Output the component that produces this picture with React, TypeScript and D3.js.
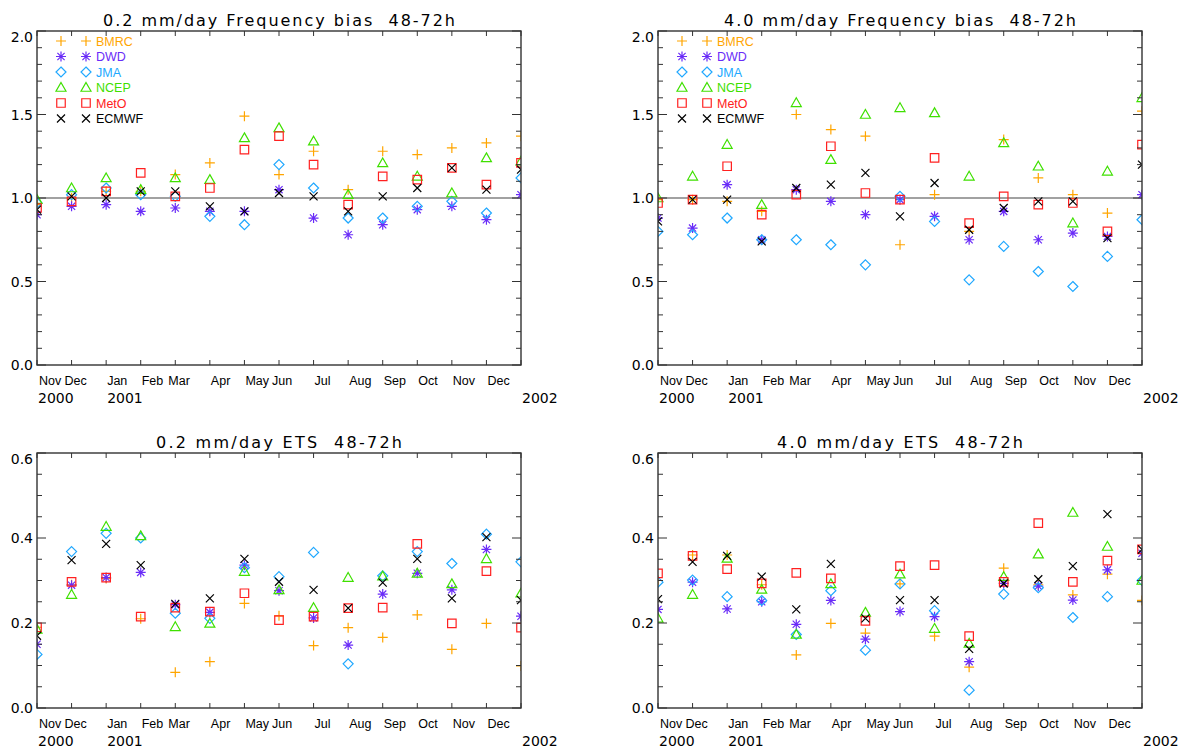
import React, { useEffect, useRef } from 'react';
import * as d3 from 'd3';

const width = 1189;
const height = 749;

const models = ['BMRC', 'DWD', 'JMA', 'NCEP', 'MetO', 'ECMWF'];
const modelColors = ['#ffa500', '#6a2cf8', '#20a8ff', '#3fe000', '#ff2020', '#000000'];
const monthLabels = ['Nov', 'Dec', 'Jan', 'Feb', 'Mar', 'Apr', 'May', 'Jun', 'Jul', 'Aug', 'Sep', 'Oct', 'Nov', 'Dec'];
const yearLabels = ['2000', '2001', '2002'];
const yearIndex = [0, 2, 14];

// one row per model (same order as `models`), 15 monthly values Nov 2000 .. Jan 2002
const freqBias02 = [
  [0.96, 1.0, 1.04, 1.04, 1.14, 1.21, 1.49, 1.14, 1.28, 1.05, 1.28, 1.26, 1.3, 1.33, 1.37],
  [0.9, 0.95, 0.96, 0.92, 0.94, 0.92, 0.92, 1.05, 0.88, 0.78, 0.84, 0.93, 0.95, 0.87, 1.02],
  [0.97, 1.02, 1.06, 1.02, 1.01, 0.89, 0.84, 1.2, 1.06, 0.88, 0.88, 0.95, 0.98, 0.91, 1.12],
  [0.99, 1.06, 1.12, 1.05, 1.12, 1.11, 1.36, 1.42, 1.34, 1.02, 1.21, 1.13, 1.03, 1.24, 1.22],
  [0.94, 0.98, 1.04, 1.15, 1.01, 1.06, 1.29, 1.37, 1.2, 0.96, 1.13, 1.11, 1.18, 1.08, 1.21],
  [0.93, 1.01, 1.0, 1.04, 1.04, 0.95, 0.92, 1.03, 1.01, 0.92, 1.01, 1.06, 1.18, 1.05, 1.17],
];

const freqBias40 = [
  [0.99, 0.99, 0.98, 0.92, 1.5, 1.41, 1.37, 0.72, 1.02, 0.8, 1.35, 1.12, 1.02, 0.91, 1.52],
  [0.88, 0.82, 1.08, 0.75, 1.05, 0.98, 0.9, 0.99, 0.89, 0.75, 0.92, 0.75, 0.79, 0.77, 1.02],
  [0.8, 0.78, 0.88, 0.75, 0.75, 0.72, 0.6, 1.01, 0.86, 0.51, 0.71, 0.56, 0.47, 0.65, 0.87],
  [1.0, 1.13, 1.32, 0.96, 1.57, 1.23, 1.5, 1.54, 1.51, 1.13, 1.33, 1.19, 0.85, 1.16, 1.6],
  [0.97, 0.99, 1.19, 0.9, 1.02, 1.31, 1.03, 0.99, 1.24, 0.85, 1.01, 0.96, 0.97, 0.8, 1.32],
  [0.86, 0.99, 0.99, 0.74, 1.06, 1.08, 1.15, 0.89, 1.09, 0.81, 0.94, 0.98, 0.98, 0.76, 1.2],
];

const ets02 = [
  [0.19, 0.29, 0.305, 0.21, 0.084, 0.109, 0.246, 0.217, 0.147, 0.189, 0.166, 0.219, 0.138, 0.199, 0.099],
  [0.15, 0.289, 0.307, 0.319, 0.243, 0.225, 0.336, 0.276, 0.212, 0.148, 0.268, 0.317, 0.278, 0.373, 0.216],
  [0.126, 0.368, 0.411, 0.4, 0.223, 0.211, 0.33, 0.309, 0.366, 0.104, 0.311, 0.368, 0.34, 0.409, 0.344],
  [0.185, 0.267, 0.427, 0.405, 0.191, 0.199, 0.321, 0.278, 0.236, 0.307, 0.31, 0.317, 0.292, 0.351, 0.27],
  [0.19, 0.297, 0.307, 0.215, 0.236, 0.227, 0.27, 0.207, 0.215, 0.235, 0.236, 0.386, 0.199, 0.322, 0.189],
  [0.17, 0.348, 0.386, 0.336, 0.245, 0.258, 0.351, 0.297, 0.278, 0.235, 0.295, 0.351, 0.258, 0.402, 0.254],
];

const ets40 = [
  [0.3, 0.36, 0.36, 0.29, 0.125, 0.199, 0.176, 0.292, 0.169, 0.096, 0.329, 0.29, 0.266, 0.315, 0.253],
  [0.232, 0.296, 0.233, 0.25, 0.197, 0.253, 0.162, 0.227, 0.215, 0.109, 0.293, 0.287, 0.254, 0.325, 0.364],
  [0.296, 0.301, 0.262, 0.253, 0.173, 0.276, 0.136, 0.292, 0.229, 0.042, 0.268, 0.283, 0.213, 0.262, 0.3],
  [0.211, 0.267, 0.352, 0.279, 0.173, 0.292, 0.225, 0.315, 0.187, 0.152, 0.309, 0.362, 0.46, 0.38, 0.3],
  [0.317, 0.358, 0.327, 0.293, 0.318, 0.305, 0.205, 0.334, 0.336, 0.169, 0.297, 0.435, 0.297, 0.347, 0.373],
  [0.256, 0.344, 0.358, 0.309, 0.232, 0.339, 0.211, 0.254, 0.254, 0.139, 0.293, 0.303, 0.334, 0.456, 0.373],
];

const biasTicks = [0, 0.5, 1, 1.5, 2];
const etsTicks = [0, 0.2, 0.4, 0.6];

const plotW = 484;
const panels = [
  { title: '0.2 mm/day Frequency bias  48-72h', data: freqBias02, ticks: biasTicks, minor: 0.1, ref: 1, legend: true, x0: 37, y0: 31, h: 334, titleLen: 352 },
  { title: '4.0 mm/day Frequency bias  48-72h', data: freqBias40, ticks: biasTicks, minor: 0.1, ref: 1, legend: true, x0: 658, y0: 31, h: 334, titleLen: 352 },
  { title: '0.2 mm/day ETS  48-72h', data: ets02, ticks: etsTicks, minor: 0.05, ref: null, legend: false, x0: 37, y0: 453, h: 255, titleLen: 246 },
  { title: '4.0 mm/day ETS  48-72h', data: ets40, ticks: etsTicks, minor: 0.05, ref: null, legend: false, x0: 658, y0: 453, h: 255, titleLen: 246 },
];

// IDL-style outline plot symbols: + * diamond triangle square x
const symbolPath = (k: number, s: number) => {
  const d = s * 0.72;
  switch (k) {
    case 0:
      return `M${-s},0H${s}M0,${-s}V${s}`;
    case 1:
      return `M${-s},0H${s}M0,${-s}V${s}M${-d},${-d}L${d},${d}M${-d},${d}L${d},${-d}`;
    case 2:
      return `M0,${-s}L${s},0L0,${s}L${-s},0Z`;
    case 3:
      return `M0,${-s}L${s},${s * 0.75}L${-s},${s * 0.75}Z`;
    case 4:
      return `M${-s * 0.85},${-s * 0.85}H${s * 0.85}V${s * 0.85}H${-s * 0.85}Z`;
    default:
      return `M${-s * 0.8},${-s * 0.8}L${s * 0.8},${s * 0.8}M${-s * 0.8},${s * 0.8}L${s * 0.8},${-s * 0.8}`;
  }
};

const labelFont = '"DejaVu Sans", sans-serif';
const monthFont = '"Liberation Sans", Arial, sans-serif';

const App: React.FC = () => {
  const ref = useRef<SVGSVGElement>(null);

  useEffect(() => {
    const svg = d3.select(ref.current);
    svg.selectAll('*').remove();

    panels.forEach((p, pi) => {
      const x = d3.scaleLinear().domain([0, 14]).range([p.x0, p.x0 + plotW]);
      const yMax = p.ticks[p.ticks.length - 1];
      const y = d3.scaleLinear().domain([0, yMax]).range([p.y0 + p.h, p.y0]);
      const g = svg.append('g');

      const clipId = `clip${pi}`;
      svg
        .append('clipPath')
        .attr('id', clipId)
        .append('rect')
        .attr('x', p.x0)
        .attr('y', p.y0)
        .attr('width', plotW)
        .attr('height', p.h);

      // title
      g.append('text')
        .attr('x', p.x0 + plotW / 2)
        .attr('y', p.y0 - 5)
        .attr('text-anchor', 'middle')
        .attr('textLength', p.titleLen)
        .attr('lengthAdjust', 'spacing')
        .style('white-space', 'pre')
        .style('font-family', labelFont)
        .style('font-size', '16px')
        .text(p.title);

      // reference line
      if (p.ref !== null) {
        g.append('line')
          .attr('x1', p.x0)
          .attr('x2', p.x0 + plotW)
          .attr('y1', y(p.ref))
          .attr('y2', y(p.ref))
          .attr('stroke', '#444')
          .attr('stroke-width', 1.2);
      }

      // points
      const pts = g.append('g').attr('clip-path', `url(#${clipId})`);
      p.data.forEach((series, k) => {
        pts
          .append('g')
          .selectAll('path')
          .data(series)
          .join('path')
          .attr('transform', (v, i) => `translate(${x(i)},${y(v)})`)
          .attr('d', symbolPath(k, 5))
          .attr('fill', 'none')
          .attr('stroke', modelColors[k])
          .attr('stroke-width', 1.2);
      });

      // frame
      g.append('rect')
        .attr('x', p.x0)
        .attr('y', p.y0)
        .attr('width', plotW)
        .attr('height', p.h)
        .attr('fill', 'none')
        .attr('stroke', '#333')
        .attr('stroke-width', 1.4);

      // x ticks (bottom + top)
      const months = d3.range(15);
      g.append('g')
        .selectAll('line')
        .data(months)
        .join('line')
        .attr('x1', (i) => x(i))
        .attr('x2', (i) => x(i))
        .attr('y1', p.y0 + p.h)
        .attr('y2', p.y0 + p.h - 5)
        .attr('stroke', '#333');
      g.append('g')
        .selectAll('line')
        .data(months)
        .join('line')
        .attr('x1', (i) => x(i))
        .attr('x2', (i) => x(i))
        .attr('y1', p.y0)
        .attr('y2', p.y0 + 5)
        .attr('stroke', '#333');

      // y ticks (left + right), minor and major
      const minorTicks = d3.range(0, yMax + p.minor / 2, p.minor).map((v) => +v.toFixed(3));
      const isMajor = (v: number) => p.ticks.some((t) => Math.abs(t - v) < 1e-6);
      [p.x0, p.x0 + plotW].forEach((ax, side) => {
        g.append('g')
          .selectAll('line')
          .data(minorTicks)
          .join('line')
          .attr('x1', ax)
          .attr('x2', (v) => ax + (side === 0 ? 1 : -1) * (isMajor(v) ? 9 : 5))
          .attr('y1', (v) => y(v))
          .attr('y2', (v) => y(v))
          .attr('stroke', '#333');
      });

      // y tick labels
      g.append('g')
        .selectAll('text')
        .data(p.ticks)
        .join('text')
        .attr('x', p.x0 - 4)
        .attr('y', (v, i) => y(v) + (i === p.ticks.length - 1 ? 6 : 0))
        .attr('dy', '0.36em')
        .attr('text-anchor', 'end')
        .style('font-family', labelFont)
        .style('font-size', '14px')
        .text((v) => d3.format('.1f')(v));

      // month labels
      const nudge = (i: number) => ([1, 4, 7].includes(i) ? -7 : 1);
      g.append('g')
        .selectAll('text')
        .data(monthLabels)
        .join('text')
        .attr('x', (m, i) => x(i) + nudge(i) + (i === 0 ? 1 : 0))
        .attr('y', p.y0 + p.h + 20)
        .style('font-family', monthFont)
        .style('font-size', '12.5px')
        .text((m) => m);

      g.append('g')
        .selectAll('text')
        .data(yearLabels)
        .join('text')
        .attr('x', (t, i) => x(yearIndex[i]) + 1)
        .attr('y', p.y0 + p.h + 38)
        .style('font-family', labelFont)
        .style('font-size', '14px')
        .text((t) => t);

      // legend
      if (p.legend) {
        models.forEach((name, k) => {
          const ly = p.y0 + 10 + k * 15.5;
          [24, 49].forEach((dx) => {
            g.append('path')
              .attr('transform', `translate(${p.x0 + dx},${ly})`)
              .attr('d', symbolPath(k, 5))
              .attr('fill', 'none')
              .attr('stroke', modelColors[k])
              .attr('stroke-width', 1.2);
          });
          g.append('text')
            .attr('x', p.x0 + 59)
            .attr('y', ly + 4.5)
            .attr('fill', modelColors[k])
            .style('font-family', monthFont)
            .style('font-size', '12.5px')
            .text(name);
        });
      }
    });
  }, []);

  return (
    <div style={{ position: 'absolute', left: 0, top: 0 }}>
      <svg ref={ref} width={width} height={height} style={{ display: 'block', background: '#fff' }} />
    </div>
  );
};

export default App;
